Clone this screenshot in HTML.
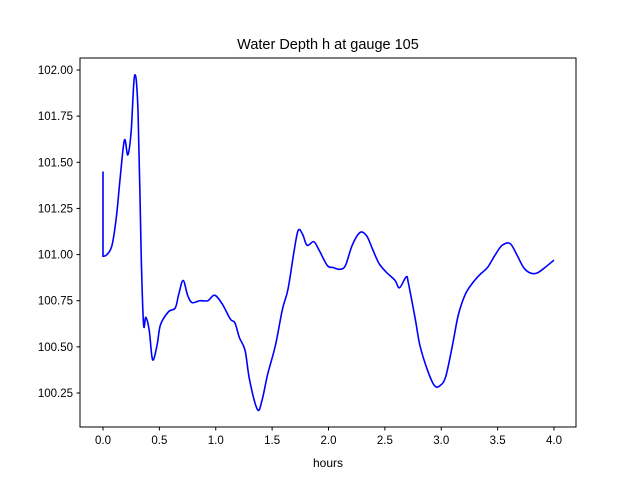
<!DOCTYPE html>
<html><head><meta charset="utf-8"><style>
body{margin:0;background:#fff;}
svg{display:block;font-family:"Liberation Sans","DejaVu Sans",sans-serif;}
</style></head><body>
<svg id="chart" width="640" height="480" viewBox="0 0 640 480">
<rect width="640" height="480" fill="#fff"/>
<text x="328" y="49" text-anchor="middle" font-size="14.5">Water Depth h at gauge 105</text>
<g id="xticks"></g>
<g id="yticks"></g>
<path id="line" fill="none" stroke="#0000ff" stroke-width="1.6" stroke-linejoin="round"/>
<rect x="80" y="58" width="496" height="369" fill="none" stroke="#000" stroke-width="1"/>
<text x="328" y="467" text-anchor="middle" font-size="12">hours</text>
</svg>
<script>
const hours=[0,0,0.035,0.08,0.12,0.15,0.19,0.22,0.25,0.28,0.31,0.34,0.36,0.38,0.41,0.44,0.48,0.51,0.58,0.64,0.67,0.71,0.75,0.79,0.86,0.93,0.99,1.06,1.13,1.17,1.21,1.26,1.30,1.37,1.41,1.46,1.53,1.59,1.64,1.69,1.73,1.77,1.81,1.87,1.92,1.99,2.04,2.10,2.15,2.21,2.28,2.34,2.39,2.45,2.52,2.59,2.63,2.69,2.71,2.77,2.81,2.88,2.94,2.99,3.04,3.10,3.15,3.21,3.27,3.34,3.41,3.48,3.54,3.61,3.67,3.73,3.79,3.85,3.92,4.0];
const depth=[101.45,100.99,101.0,101.05,101.21,101.40,101.62,101.54,101.67,101.97,101.78,100.97,100.62,100.66,100.59,100.43,100.51,100.62,100.69,100.71,100.78,100.86,100.78,100.74,100.75,100.75,100.78,100.73,100.65,100.63,100.55,100.48,100.32,100.16,100.21,100.35,100.51,100.70,100.81,101.0,101.13,101.11,101.05,101.07,101.02,100.94,100.93,100.92,100.94,101.05,101.12,101.10,101.03,100.95,100.90,100.86,100.82,100.88,100.84,100.65,100.51,100.37,100.29,100.29,100.34,100.51,100.67,100.78,100.84,100.89,100.93,101.0,101.05,101.06,101.0,100.93,100.90,100.90,100.93,100.97];
const xTickLabels=["0.0","0.5","1.0","1.5","2.0","2.5","3.0","3.5","4.0"];
const yTickLabels=["100.25","100.50","100.75","101.00","101.25","101.50","101.75","102.00"];
const X=t=>103+t*112.75;
const Y=v=>70+(102-v)*184.57;
const NS="http://www.w3.org/2000/svg";
function mk(tag,attrs,parent){const e=document.createElementNS(NS,tag);for(const k in attrs)e.setAttribute(k,attrs[k]);parent.appendChild(e);return e;}
const xg=document.getElementById('xticks'),yg=document.getElementById('yticks');
xTickLabels.forEach(l=>{const x=X(parseFloat(l));
const t=mk('line',{x1:x,x2:x,y1:427,y2:430.5,stroke:'#000'},xg);


const s=mk('text',{x:x,y:444,'text-anchor':'middle','font-size':'11.5'},xg);s.textContent=l;

});
yTickLabels.forEach(l=>{const y=Y(parseFloat(l));
const t=mk('line',{x1:76.5,x2:80,y1:y,y2:y,stroke:'#000'},yg);


const s=mk('text',{x:73,y:y+4,'text-anchor':'end','font-size':'11.5'},yg);s.textContent=l;

});
const P=hours.map((t,i)=>[X(t),Y(depth[i])]);
let d='M'+P[0][0].toFixed(1)+','+P[0][1].toFixed(1)+'L'+P[1][0].toFixed(1)+','+P[1][1].toFixed(1);
for(let i=1;i<P.length-1;i++){
  const p0=P[Math.max(i-1,1)],p1=P[i],p2=P[i+1],p3=P[Math.min(i+2,P.length-1)];
  const c1=[p1[0]+(p2[0]-p0[0])/6,p1[1]+(p2[1]-p0[1])/6];
  const c2=[p2[0]-(p3[0]-p1[0])/6,p2[1]-(p3[1]-p1[1])/6];
  d+='C'+c1[0].toFixed(1)+','+c1[1].toFixed(1)+' '+c2[0].toFixed(1)+','+c2[1].toFixed(1)+' '+p2[0].toFixed(1)+','+p2[1].toFixed(1);
}
document.getElementById('line').setAttribute('d',d);
</script>
</body></html>
